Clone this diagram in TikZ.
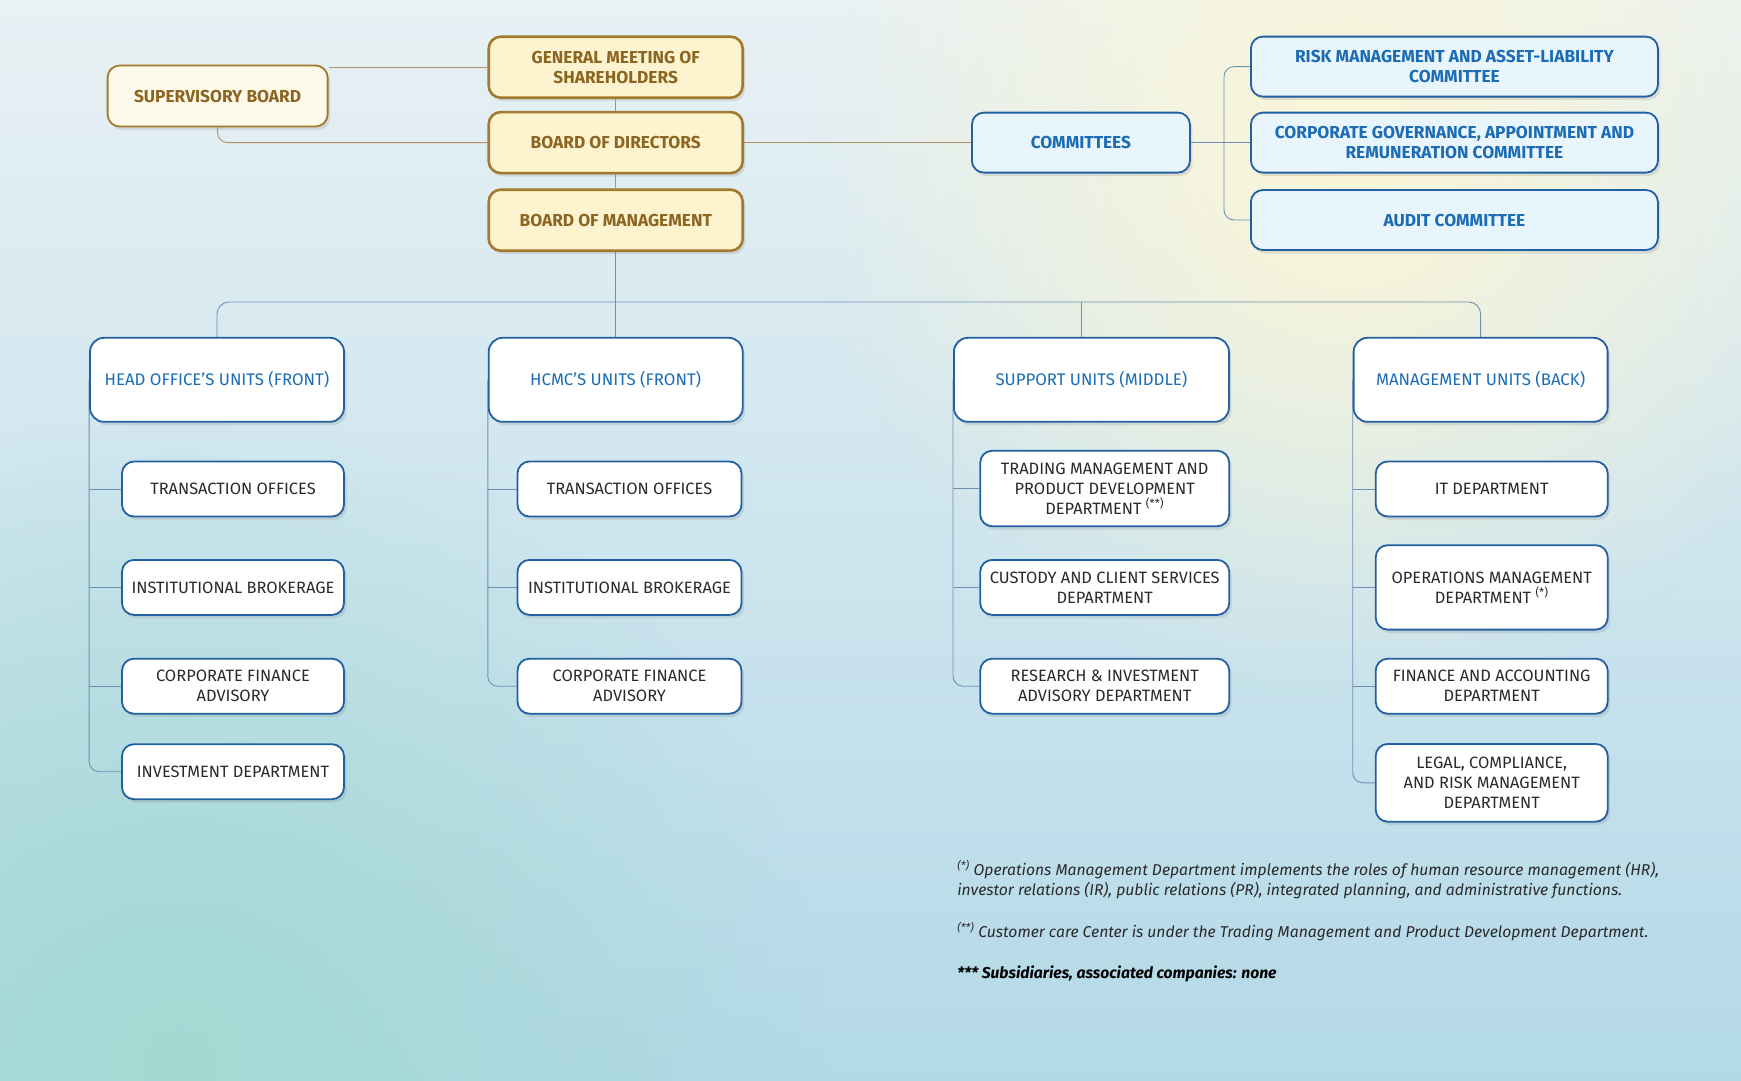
\documentclass[tikz,border=0pt]{standalone}
\usepackage{fontspec}
\setmainfont{Fira Sans}
\usepackage{tikz}
\usetikzlibrary{shapes,positioning,shadows,fadings,backgrounds}

\definecolor{goldDraw}{HTML}{A37A2C}
\definecolor{goldFill}{HTML}{FDF4CF}
\definecolor{goldText}{HTML}{8C6522}
\definecolor{goldLine}{HTML}{B09468}
\definecolor{blueDraw}{HTML}{2360A2}
\definecolor{blueText}{HTML}{1B6CB4}
\definecolor{blueLine}{HTML}{6F8FB7}
\definecolor{comFill}{HTML}{E9F5FC}
\definecolor{depText}{HTML}{2A2A2A}
\definecolor{bgTop}{HTML}{E8F1F4}
\definecolor{bgBot}{HTML}{B3D9E8}
\definecolor{glow}{HTML}{FCF6D6}
\definecolor{aqua}{HTML}{A3D9D3}

\tikzfading[name=softglow, inner color=transparent!0, outer color=transparent!100]

\begin{document}
\begin{tikzpicture}[
    x=1pt, y=-1pt,
    shd/.style={drop shadow={opacity=0.2, shadow xshift=2.5pt, shadow yshift=-3.5pt}},
    gbox/.style={rectangle, draw=goldDraw, fill=goldFill, line width=2.6pt, rounded corners=12pt, align=center, minimum height=61pt, minimum width=254pt, text=goldText, font=\bfseries\fontsize{17.3}{20}\selectfont, shd},
    sbox/.style={gbox, line width=1.8pt, fill=goldFill!45!white, minimum width=220pt},
    cbox/.style={rectangle, draw=blueDraw, fill=comFill, line width=1.8pt, rounded corners=12pt, align=center, minimum height=60pt, minimum width=218pt, text=blueText, font=\bfseries\fontsize{17.3}{20}\selectfont, shd},
    ubox/.style={rectangle, draw=blueDraw, fill=white, line width=1.8pt, rounded corners=14pt, align=center, minimum height=84pt, minimum width=254pt, text=blueText, font=\fontsize{16.8}{20}\selectfont, shd},
    dbox/.style={rectangle, draw=blueDraw, fill=white, line width=1.8pt, rounded corners=12pt, align=center, minimum height=55pt, text=depText, font=\fontsize{16.4}{20}\selectfont, shd},
    note/.style={anchor=base west, align=left, text=depText, font=\itshape\fontsize{15.7}{20}\selectfont},
    gline/.style={draw=goldLine, line width=0.9pt},
    bline/.style={draw=blueLine, line width=0.9pt}
]
    \useasboundingbox (0,0) rectangle (1741,1080);
    \begin{scope}[on background layer]
        \shade[top color=bgTop, bottom color=bgBot] (0,0) rectangle (1741,1080);
        \fill[glow, path fading=softglow] (1350,160) circle (540);
        \fill[aqua, path fading=softglow] (180,1060) circle (650);
    \end{scope}

    \node [sbox] (sup) at (217.6,96) {SUPERVISORY BOARD};
    \node [gbox] (gm) at (615.7,67.2) {GENERAL MEETING OF\\SHAREHOLDERS};
    \node [gbox] (bod) at (615.7,142.6) {BOARD OF DIRECTORS};
    \node [gbox] (bom) at (615.7,220.2) {BOARD OF MANAGEMENT};

    \node [cbox] (com) at (1080.9,142.6) {COMMITTEES};
    \node [cbox, minimum width=407pt] (risk) at (1454.4,66.6) {RISK MANAGEMENT AND ASSET-LIABILITY\\COMMITTEE};
    \node [cbox, minimum width=407pt] (gov) at (1454.4,142.6) {CORPORATE GOVERNANCE, APPOINTMENT AND\\REMUNERATION COMMITTEE};
    \node [cbox, minimum width=407pt] (aud) at (1454.4,220) {AUDIT COMMITTEE};

    \node [ubox] (hq) at (217,379.8) {HEAD OFFICE’S UNITS (FRONT)};
    \node [ubox] (hcmc) at (615.7,379.8) {HCMC’S UNITS (FRONT)};
    \node [ubox, minimum width=275pt] (mid) at (1091.4,379.8) {SUPPORT UNITS (MIDDLE)};
    \node [ubox] (back) at (1480.6,379.8) {MANAGEMENT UNITS (BACK)};

    \node [dbox, minimum width=222pt] (hq1) at (233,489) {TRANSACTION OFFICES};
    \node [dbox, minimum width=222pt] (hq2) at (233,587.4) {INSTITUTIONAL BROKERAGE};
    \node [dbox, minimum width=222pt] (hq3) at (233,686.2) {CORPORATE FINANCE\\ADVISORY};
    \node [dbox, minimum width=222pt] (hq4) at (233,771.7) {INVESTMENT DEPARTMENT};

    \node [dbox, minimum width=224pt] (hc1) at (629.5,489) {TRANSACTION OFFICES};
    \node [dbox, minimum width=224pt] (hc2) at (629.5,587.4) {INSTITUTIONAL BROKERAGE};
    \node [dbox, minimum width=224pt] (hc3) at (629.5,686.2) {CORPORATE FINANCE\\ADVISORY};

    \node [dbox, minimum width=249pt, minimum height=75.5pt] (md1) at (1104.7,488.5) {TRADING MANAGEMENT AND\\PRODUCT DEVELOPMENT\\DEPARTMENT \textsuperscript{(**)}};
    \node [dbox, minimum width=249pt] (md2) at (1104.7,587.4) {CUSTODY AND CLIENT SERVICES\\DEPARTMENT};
    \node [dbox, minimum width=249pt] (md3) at (1104.7,686.2) {RESEARCH \& INVESTMENT\\ADVISORY DEPARTMENT};

    \node [dbox, minimum width=232pt] (bk1) at (1491.7,489) {IT DEPARTMENT};
    \node [dbox, minimum width=232pt, minimum height=84.4pt] (bk2) at (1491.7,587.4) {OPERATIONS MANAGEMENT\\DEPARTMENT \textsuperscript{(*)}};
    \node [dbox, minimum width=232pt] (bk3) at (1491.7,686.2) {FINANCE AND ACCOUNTING\\DEPARTMENT};
    \node [dbox, minimum width=232pt, minimum height=77.7pt] (bk4) at (1491.7,782.8) {LEGAL, COMPLIANCE,\\AND RISK MANAGEMENT\\DEPARTMENT};

    \node [note] (n1) at (953.8,895) {\textsuperscript{(*)} Operations Management Department implements the roles of human resource management (HR),\\investor relations (IR), public relations (PR), integrated planning, and administrative functions.};
    \node [note] (n2) at (953.8,937) {\textsuperscript{(**)} Customer care Center is under the Trading Management and Product Development Department.};
    \node [note, font=\bfseries\itshape\fontsize{15.7}{20}\selectfont, text=black] (n3) at (953.8,978) {*** Subsidiaries, associated companies: none};

    \begin{scope}[on background layer]
        \draw [gline] (gm.west) -- (gm.west -| sup.east);
        \draw [gline, rounded corners=10pt] (sup.south) |- (bod.west);
        \draw [gline] (gm) -- (bod) -- (bom);
        \draw [gline] (bod.east) -- (com.west);

        \draw [bline] (com.east) -- (gov.west);
        \draw [bline, rounded corners=10pt] (risk.west) -| ([xshift=-26pt]gov.west) |- (aud.west);

        \coordinate (bus) at ([yshift=-50pt]bom.south);
        \coordinate (midtop) at ([xshift=-10pt]mid.north);
        \draw [bline] (bom.south) -- (hcmc.north);
        \draw [bline, rounded corners=12pt] (hq.north) |- (bus) -| (back.north);
        \draw [bline] (bus -| midtop) -- (midtop);

        \draw [bline, rounded corners=10pt] (hq.west) |- (hq4.west);
        \draw [bline, rounded corners=10pt] (hcmc.west) |- (hc3.west);
        \draw [bline, rounded corners=10pt] (mid.west) |- (md3.west);
        \draw [bline, rounded corners=10pt] (back.west) |- (bk4.west);
        \foreach \c/\n in {hq/hq1, hq/hq2, hq/hq3, hcmc/hc1, hcmc/hc2, mid/md1, mid/md2, back/bk1, back/bk2, back/bk3}
            \draw [bline] (\n.west -| \c.west) -- (\n.west);
    \end{scope}
\end{tikzpicture}
\end{document}
